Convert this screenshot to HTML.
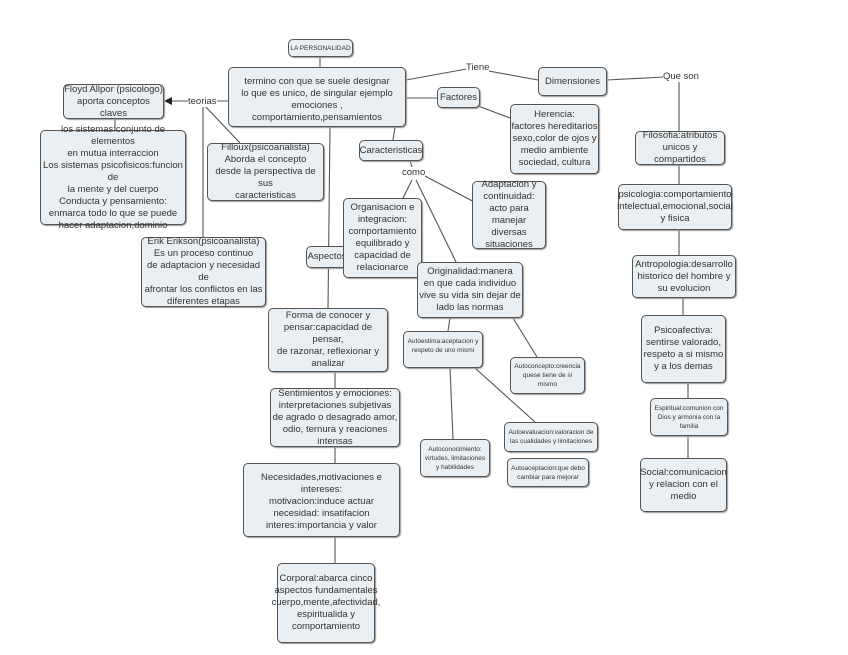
<!DOCTYPE html>
<html><head><meta charset="utf-8"><style>
body{margin:0;width:848px;height:655px;background:#fff;position:relative;overflow:hidden;font-family:"Liberation Sans",sans-serif;}
.b{position:absolute;box-sizing:border-box;background:#e9eff3;border:1.3px solid #555;border-radius:5px;display:flex;align-items:center;justify-content:center;text-align:center;font-size:9.5px;line-height:12px;color:#333;box-shadow:1px 1px 1px #999;}
.s{font-size:6.5px;line-height:9px;}
.l{position:absolute;font-size:9.5px;color:#333;background:#fff;line-height:11px;}
svg{position:absolute;left:0;top:0;}
</style></head><body>
<svg width="848" height="655" stroke="#555" stroke-width="1.1" fill="none">
<line x1="320" y1="57" x2="320" y2="67"/>
<polyline points="406,80 472,68 538,80"/>
<line x1="406" y1="98" x2="437" y2="98"/>
<polyline points="607,80 664,77"/>
<line x1="679" y1="80" x2="679" y2="131"/>
<line x1="478" y1="106" x2="510" y2="118"/>
<line x1="228" y1="101" x2="170" y2="101"/>
<polygon points="164,101 172,97 172,105" fill="#222" stroke="none"/>
<line x1="205" y1="106" x2="240" y2="143"/>
<line x1="203" y1="106" x2="203" y2="237"/>
<line x1="115" y1="119" x2="115" y2="130"/>
<line x1="330" y1="127" x2="328" y2="308"/>
<line x1="395" y1="127" x2="393" y2="140"/>
<line x1="410" y1="161" x2="413" y2="170"/>
<line x1="412" y1="180" x2="403" y2="198"/>
<line x1="416" y1="180" x2="456" y2="262"/>
<line x1="425" y1="176" x2="480" y2="205"/>
<line x1="450" y1="318" x2="448" y2="331"/>
<line x1="513" y1="318" x2="537" y2="357"/>
<line x1="450" y1="368" x2="453" y2="439"/>
<line x1="475" y1="368" x2="535" y2="422"/>
<line x1="335" y1="372" x2="335" y2="388"/>
<line x1="335" y1="447" x2="335" y2="463"/>
<line x1="335" y1="537" x2="335" y2="563"/>
<line x1="679" y1="165" x2="679" y2="184"/>
<line x1="679" y1="230" x2="679" y2="255"/>
<line x1="683" y1="298" x2="683" y2="315"/>
<line x1="688" y1="383" x2="688" y2="398"/>
<line x1="688" y1="436" x2="688" y2="458"/>
</svg>
<div class="b s" style="left:288px;top:39px;width:65px;height:18px">LA PERSONALIDAD</div>
<div class="b" style="left:228px;top:67px;width:178px;height:60px;padding-top:6px">termino con que se suele designar<br>lo que es unico, de singular ejemplo<br>emociones , comportamiento,pensamientos</div>
<div class="b" style="left:63px;top:84px;width:101px;height:35px">Floyd Allpor (psicologo)<br>aporta conceptos claves</div>
<div class="b" style="left:40px;top:130px;width:146px;height:95px">los sistemas:conjunto de elementos<br>en mutua interraccion<br>Los sistemas psicofisicos:funcion de<br>la mente y del cuerpo<br>Conducta y pensamiento:<br>enmarca todo lo que se puede<br>hacer adaptacion,dominio</div>
<div class="b" style="left:207px;top:143px;width:117px;height:58px">Filloux(psicoanalista)<br>Aborda el concepto<br>desde la perspectiva de sus<br>caracteristicas</div>
<div class="b" style="left:141px;top:237px;width:125px;height:70px">Erik Erikson(psicoanalista)<br>Es un proceso continuo<br>de adaptacion y necesidad de<br>afrontar los conflictos en las<br>diferentes etapas</div>
<div class="b" style="left:306px;top:246px;width:42px;height:22px">Aspectos</div>
<div class="b" style="left:343px;top:198px;width:79px;height:80px">Organisacion e<br>integracion:<br>comportamiento<br>equilibrado y<br>capacidad de<br>relacionarce</div>
<div class="b" style="left:359px;top:140px;width:64px;height:21px">Caracteristicas</div>
<div class="b" style="left:437px;top:87px;width:43px;height:21px">Factores</div>
<div class="b" style="left:538px;top:67px;width:69px;height:29px">Dimensiones</div>
<div class="b" style="left:510px;top:104px;width:89px;height:70px">Herencia:<br>factores hereditarios<br>sexo,color de ojos y<br>medio ambiente<br>sociedad, cultura</div>
<div class="b" style="left:472px;top:181px;width:74px;height:68px">Adaptacion y<br>continuidad:<br>acto para<br>manejar diversas<br>situaciones</div>
<div class="b" style="left:417px;top:262px;width:106px;height:56px">Originalidad:manera<br>en que cada individuo<br>vive su vida sin dejar de<br>lado las normas</div>
<div class="b s" style="left:403px;top:331px;width:80px;height:37px;align-items:flex-start;padding-top:5px">Autoestima:aceptacion y<br>respeto de uno mismi</div>
<div class="b s" style="left:510px;top:357px;width:75px;height:37px">Autoconcepto:creencia<br>quese tiene de si<br>mismo</div>
<div class="b s" style="left:504px;top:422px;width:94px;height:30px">Autoevaluacion:valoracion de<br>las cualidades y limitaciones</div>
<div class="b s" style="left:420px;top:439px;width:70px;height:38px">Autoconocimiento:<br>virtudes, limitaciones<br>y habilidades</div>
<div class="b s" style="left:507px;top:458px;width:82px;height:29px">Autoaceptacion:que debo<br>cambiar para mejorar</div>
<div class="b" style="left:268px;top:308px;width:120px;height:64px">Forma de conocer y<br>pensar:capacidad de pensar,<br>de razonar, reflexionar y<br>analizar</div>
<div class="b" style="left:270px;top:388px;width:130px;height:59px">Sentimientos y emociones:<br>interpretaciones subjetivas<br>de agrado o desagrado amor,<br>odio, ternura y reaciones intensas</div>
<div class="b" style="left:243px;top:463px;width:157px;height:74px;align-items:flex-start;padding-top:8px">Necesidades,motivaciones e intereses:<br>motivacion:induce actuar<br>necesidad: insatifacion<br>interes:importancia y valor</div>
<div class="b" style="left:277px;top:563px;width:98px;height:80px">Corporal:abarca cinco<br>aspectos fundamentales<br>cuerpo,mente,afectividad,<br>espiritualida y<br>comportamiento</div>
<div class="b" style="left:635px;top:131px;width:90px;height:34px">Filosofia:atributos<br>unicos y compartidos</div>
<div class="b" style="left:618px;top:184px;width:114px;height:46px">psicologia:comportamiento<br>intelectual,emocional,social<br>y fisica</div>
<div class="b" style="left:632px;top:255px;width:104px;height:43px">Antropologia:desarrollo<br>historico del hombre y<br>su evolucion</div>
<div class="b" style="left:641px;top:315px;width:85px;height:68px">Psicoafectiva:<br>sentirse valorado,<br>respeto a si mismo<br>y a los demas</div>
<div class="b s" style="left:650px;top:398px;width:78px;height:38px">Espiritual:comunion con<br>Dios y armonia con la<br>familia</div>
<div class="b" style="left:640px;top:458px;width:87px;height:54px">Social:comunicacion<br>y relacion con el<br>medio</div>
<div class="l" style="left:188px;top:96px">teorias</div>
<div class="l" style="left:402px;top:167px">como</div>
<div class="l" style="left:466px;top:62px">Tiene</div>
<div class="l" style="left:663px;top:71px">Que son</div>
</body></html>
